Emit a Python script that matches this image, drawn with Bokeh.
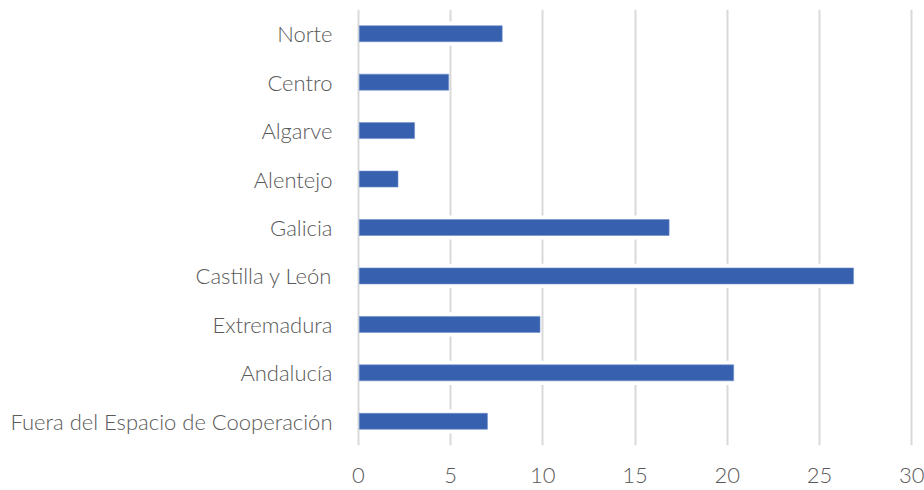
from bokeh.plotting import figure
from bokeh.models import Range1d, FactorRange, FixedTicker, ColumnDataSource
from bokeh.embed import file_html
from bokeh.resources import INLINE

# Data (top to bottom as shown)
regions = ["Norte", "Centro", "Algarve", "Alentejo", "Galicia",
           "Castilla y León", "Extremadura", "Andalucía",
           "Fuera del Espacio de Cooperación"]
values = [7.8, 4.9, 3.05, 2.15, 16.85, 26.85, 9.85, 20.35, 7.0]
x_ticks = [0, 5, 10, 15, 20, 25, 30]

factors = list(reversed(regions))
src = ColumnDataSource(dict(region=regions, value=values))

p = figure(width=924, height=490, output_backend="svg", toolbar_location=None,
           y_range=FactorRange(factors=factors, range_padding=0),
           x_range=Range1d(-0.1, 30.1),
           min_border_left=356, min_border_right=11, min_border_top=9,
           min_border_bottom=45)

p.outline_line_color = None
p.background_fill_color = "white"
p.border_fill_color = "white"

# white halo around bars (breaks gridlines like the reference)
p.hbar(y="region", left=0.12, right="value", height=0.5, source=src,
       fill_color="white", line_color=None)
p.hbar(y="region", left=0.05, right="value", height=0.33, source=src,
       fill_color="#2F59AC", fill_alpha=0.96, line_color="#6F8FCC",
       line_width=1, line_alpha=0.6)

p.ygrid.grid_line_color = None
p.xgrid.grid_line_color = "#D9D9D9"
p.xgrid.grid_line_width = 2
p.xaxis.ticker = FixedTicker(ticks=x_ticks)

for ax in (p.xaxis[0], p.yaxis[0]):
    ax.axis_line_color = None
    ax.major_tick_line_color = None
    ax.minor_tick_line_color = None
    ax.major_label_text_color = "#595959"
    ax.major_label_text_font = "Lato Light, Open Sans"
    ax.major_label_text_font_size = "22px"

p.yaxis.major_label_standoff = 18
p.xaxis.major_label_standoff = 16

open("out.html", "w").write(file_html(p, INLINE))
